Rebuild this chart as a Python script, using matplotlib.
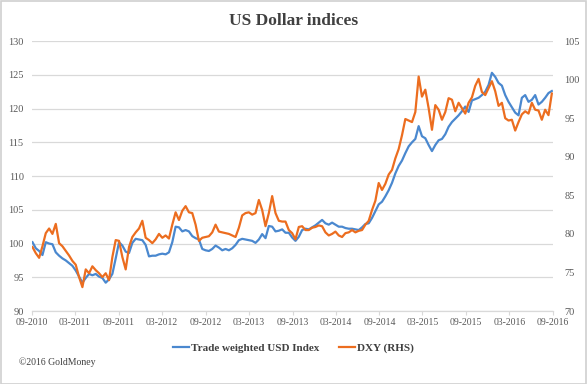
import numpy as np
import pandas as pd
import matplotlib
matplotlib.use("Agg")
import matplotlib.pyplot as plt
import matplotlib.dates as mdates
from matplotlib.patches import Rectangle

plt.rcParams['font.family'] = ['Liberation Serif', 'DejaVu Serif']

# fortnightly readings, first point early Sep 2010
start_date = '2010-09-03'

twi = [100.2, 99.3, 98.9, 98.3, 100.2, 100.0, 99.9, 98.7, 98.2, 97.8,
       97.5, 97.1, 96.7, 96.0, 95.1, 94.2, 94.9, 95.5, 95.3, 95.5,
       95.1, 94.9, 94.2, 94.7, 95.5, 97.8, 100.2, 99.7, 98.8, 98.6,
       100.1, 100.7, 100.6, 100.5, 99.8, 98.1, 98.2, 98.2, 98.4, 98.5,
       98.4, 98.7, 100.2, 102.5, 102.4, 101.8, 102.0, 101.8, 101.1, 100.8,
       100.6, 99.2, 99.0, 98.9, 99.2, 99.7, 99.4, 99.0, 99.2, 99.0,
       99.3, 99.8, 100.5, 100.7, 100.6, 100.5, 100.4, 100.1, 100.6, 101.4,
       100.8, 102.6, 102.5, 101.8, 101.9, 102.1, 101.6, 101.6, 100.9, 100.4,
       101.0, 102.0, 102.2, 102.1, 102.4, 102.7, 103.1, 103.5, 103.0, 102.8,
       103.1, 102.8, 102.5, 102.5, 102.3, 102.2, 102.2, 102.1, 102.0, 102.4,
       102.9, 103.0, 103.8, 104.8, 105.8, 106.2, 107.0, 107.9, 109.0, 110.4,
       111.5, 112.3, 113.4, 114.4, 115.0, 115.5, 117.4, 115.9, 115.6, 114.6,
       113.7, 114.6, 115.3, 115.5, 116.2, 117.3, 118.0, 118.5, 119.0, 119.6,
       120.3, 119.5, 121.2, 121.4, 121.6, 122.0, 122.5, 123.5, 125.3, 124.7,
       123.8, 123.4, 122.0, 121.0, 120.2, 119.4, 119.0, 121.6, 122.0, 121.0,
       121.3, 122.0, 120.6, 121.0, 121.6, 122.3, 122.6]

dxy = [78.3, 77.5, 76.9, 78.4, 80.1, 80.7, 80.0, 81.3, 78.8, 78.4,
       77.8, 77.2, 76.5, 76.0, 74.4, 73.1, 75.4, 74.9, 75.8, 75.3,
       74.9, 74.4, 74.9, 74.0, 77.0, 79.2, 79.1, 77.0, 75.4, 78.3,
       79.6, 80.2, 80.7, 81.7, 79.5, 79.2, 78.8, 79.3, 80.0, 79.5,
       79.8, 79.4, 81.2, 82.8, 81.8, 83.0, 83.6, 82.8, 82.7, 81.2,
       79.1, 79.5, 79.6, 79.7, 80.2, 81.2, 80.3, 80.2, 80.1, 80.0,
       79.8, 79.6, 80.8, 82.4, 82.7, 82.8, 82.5, 82.7, 84.4, 83.1,
       81.0, 82.7, 84.9, 82.7, 81.7, 81.6, 81.6, 80.5, 80.1, 79.3,
       80.9, 81.0, 80.5, 80.5, 80.8, 80.9, 81.1, 81.0, 80.2, 79.8,
       80.0, 80.3, 79.8, 79.6, 80.1, 80.2, 80.5, 80.2, 80.4, 80.5,
       81.2, 81.7, 83.1, 84.3, 86.6, 85.7, 86.5, 87.7, 88.3, 89.8,
       91.0, 92.8, 94.9, 94.7, 94.5, 95.8, 100.4, 97.8, 98.7, 96.3,
       93.5, 96.7, 96.1, 94.8, 95.8, 97.6, 97.4, 95.9, 97.0, 96.3,
       95.6, 97.0, 97.7, 99.2, 100.1, 98.4, 98.0, 98.9, 99.8, 98.5,
       96.6, 97.0, 95.0, 94.7, 94.8, 93.4, 94.5, 95.5, 95.9, 95.6,
       97.0, 96.1, 96.0, 94.8, 96.1, 95.4, 98.2]

tick_dates = pd.date_range('2010-09-01', '2016-09-01', freq='6MS')

dates = pd.date_range(start_date, periods=len(twi), freq='14D')

blue = '#4a88cf'
orange = '#ec6d1f'
grey_txt = '#595959'

fig = plt.figure(figsize=(5.87, 3.84), dpi=100)
fig.patches.append(Rectangle((0.001, 0.001), 0.997, 0.996, transform=fig.transFigure,
                             fill=False, edgecolor='#d0d0d0', lw=1.2))

ax = fig.add_axes([0.0545, 0.19, 0.888, 0.703])
ax2 = ax.twinx()

l1, = ax.plot(dates, twi, color=blue, lw=1.6, label='Trade weighted USD Index', zorder=3)
l2, = ax2.plot(dates, dxy, color=orange, lw=1.6, label='DXY (RHS)', zorder=3)

ax.set_ylim(90, 130)
ax.set_yticks(np.arange(90, 131, 5))
ax2.set_ylim(70, 105)
ax2.set_yticks(np.arange(70, 106, 5))
ax.set_xlim(pd.Timestamp('2010-09-01'), pd.Timestamp('2016-09-01'))
ax.set_xticks(tick_dates)
ax.xaxis.set_major_formatter(mdates.DateFormatter('%m-%Y'))

ax.grid(axis='y', color='#d9d9d9', lw=0.9)
ax.set_axisbelow(True)
for a in (ax, ax2):
    for s in a.spines.values():
        s.set_visible(False)
ax.spines['bottom'].set_visible(True)
ax.spines['bottom'].set_color('#d9d9d9')
ax.spines['bottom'].set_linewidth(0.9)

ax.tick_params(axis='y', length=0, labelsize=7.5, labelcolor=grey_txt, pad=6)
ax2.tick_params(axis='y', length=0, labelsize=7.5, labelcolor=grey_txt, pad=8)
ax.tick_params(axis='x', length=3, color='#d9d9d9', labelsize=7, labelcolor=grey_txt, pad=2)

fig.text(0.5, 0.945, 'US Dollar indices', ha='center', va='center',
         fontsize=12.5, fontweight='bold', color='#404040')

leg = fig.legend(handles=[l1, l2], loc='center', bbox_to_anchor=(0.5, 0.094), ncol=2,
                 frameon=False, handlelength=1.4, handletextpad=0.2, columnspacing=1.8,
                 prop={'weight': 'bold', 'size': 8})
for t in leg.get_texts():
    t.set_color('#404040')

fig.text(0.032, 0.057, '\u00a92016 GoldMoney', ha='left', va='center', fontsize=7, color='#404040')

fig.savefig('out.png', dpi=100)
